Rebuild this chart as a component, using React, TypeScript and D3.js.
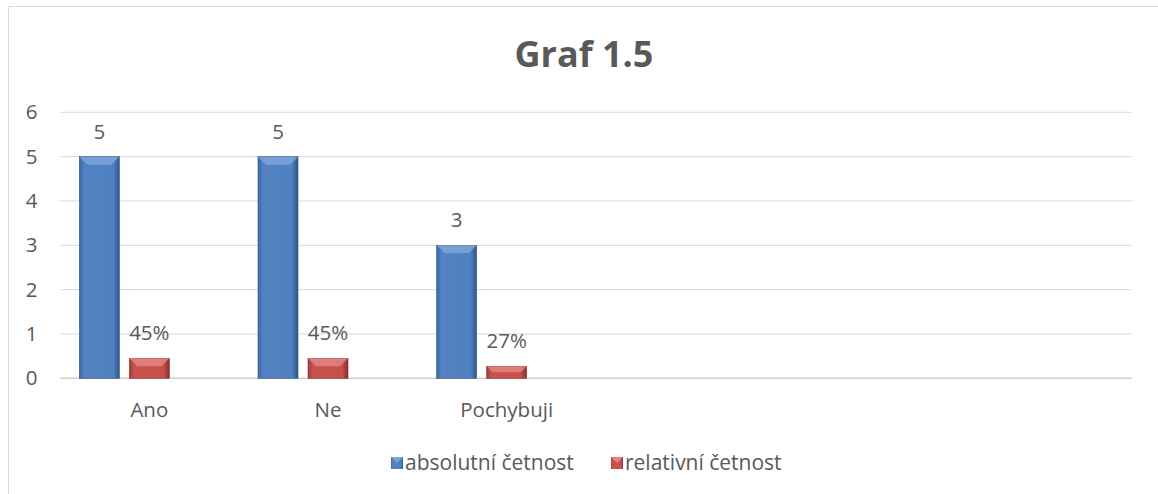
import React from 'react';
import * as d3 from 'd3';

// chart data
const categories = ['Ano', 'Ne', 'Pochybuji', '', '', ''];
const absolutni = [5, 5, 3];
const relativni = [0.45, 0.45, 0.27];
const relLabels = ['45%', '45%', '27%'];
const seriesNames = ['absolutní četnost', 'relativní četnost'];
const yTicks = [0, 1, 2, 3, 4, 5, 6];

const W = 1158;
const H = 494;
const FONT = '"Open Sans", Lato, sans-serif';
const TEXT = '#595959';
const FS = 20.5;

const App: React.FC = () => {
  const left = 60;
  const right = 1132;
  const top = 112.3;
  const bottom = 378.3;

  const x = d3
    .scaleBand<number>()
    .domain(categories.map((_, i) => i))
    .range([left, right]);

  // three slots per category, third one is empty (as in the original sheet)
  const inner = d3
    .scaleBand<string>()
    .domain(['abs', 'rel', 'empty'])
    .range([0, 150])
    .paddingInner(0.2)
    .paddingOuter(0.1);

  const y = d3.scaleLinear().domain([0, 6]).range([bottom, top]);
  const bw = inner.bandwidth();

  const groupX = (i: number) => (x(i) ?? 0) + (x.bandwidth() - 150) / 2;

  const bar = (key: string, cx: number, v: number, fillId: string, topCol: string, edge: string) => {
    const y0 = y(v);
    const h = bottom - y0;
    const bev = Math.min(8, h / 2);
    return (
      <g key={key}>
        <rect x={cx} y={y0} width={bw} height={h} fill={`url(#${fillId})`} stroke={edge} strokeWidth={0.6} />
        <polygon
          points={`${cx},${y0} ${cx + bw},${y0} ${cx + bw - bev},${y0 + bev} ${cx + bev},${y0 + bev}`}
          fill={topCol}
          opacity={0.85}
        />
      </g>
    );
  };

  return (
    <svg
      width={W}
      height={H}
      style={{ position: 'absolute', left: 0, top: 0, background: '#fff' }}
      fontFamily={FONT}
    >
      <defs>
        <linearGradient id="gBlue" x1="0" x2="1" y1="0" y2="0">
          <stop offset="0" stopColor="#3b68a3" />
          <stop offset="0.12" stopColor="#5282c2" />
          <stop offset="0.85" stopColor="#4f80c0" />
          <stop offset="1" stopColor="#2f5687" />
        </linearGradient>
        <linearGradient id="gRed" x1="0" x2="1" y1="0" y2="0">
          <stop offset="0" stopColor="#a33d3a" />
          <stop offset="0.12" stopColor="#c9514e" />
          <stop offset="0.85" stopColor="#c64f4c" />
          <stop offset="1" stopColor="#8a2f2c" />
        </linearGradient>
      </defs>

      {/* chart area border */}
      <rect x={8.5} y={6.5} width={1300} height={700} fill="#fff" stroke="#d9d9d9" strokeWidth={1} />

      <text x={584} y={66.5} textAnchor="middle" fontSize={36} fontWeight="bold" fill={TEXT}>
        Graf 1.5
      </text>

      {/* gridlines */}
      {yTicks.map((t) => (
        <g key={t}>
          <line
            x1={left}
            x2={right}
            y1={y(t)}
            y2={y(t)}
            stroke={t === 0 ? '#d0d0d0' : '#d9d9d9'}
            strokeWidth={t === 0 ? 1.5 : 1}
          />
          <text x={37.5} y={y(t) + 7} textAnchor="end" fontSize={FS} fill={TEXT}>
            {t}
          </text>
        </g>
      ))}

      {/* bars */}
      {absolutni.map((v, i) => {
        const bx = groupX(i) + (inner('abs') ?? 0);
        return (
          <g key={`a${i}`}>
            {bar(`ab${i}`, bx, v, 'gBlue', '#7fa5d8', '#2f5687')}
            <text x={bx + bw / 2} y={y(v) - 18} textAnchor="middle" fontSize={FS} fill={TEXT}>
              {v}
            </text>
          </g>
        );
      })}
      {relativni.map((v, i) => {
        const bx = groupX(i) + (inner('rel') ?? 0);
        return (
          <g key={`r${i}`}>
            {bar(`rb${i}`, bx, v, 'gRed', '#e08583', '#8a2f2c')}
            <text x={bx + bw / 2} y={y(v) - 18} textAnchor="middle" fontSize={FS} fill={TEXT}>
              {relLabels[i]}
            </text>
          </g>
        );
      })}

      {/* category labels */}
      {categories.map((c, i) => (
        <text
          key={`c${i}`}
          x={(x(i) ?? 0) + x.bandwidth() / 2}
          y={416.5}
          textAnchor="middle"
          fontSize={FS}
          fill={TEXT}
        >
          {c}
        </text>
      ))}

      {/* legend */}
      <g>
        <rect x={391} y={457} width={12} height={12} fill="url(#gBlue)" />
        <polygon points="391,457 403,457 397,463" fill="#7fa5d8" />
        <text x={405} y={469.5} fontSize={21} fill={TEXT}>
          {seriesNames[0]}
        </text>
        <rect x={611} y={457} width={12} height={12} fill="url(#gRed)" />
        <polygon points="611,457 623,457 617,463" fill="#e08583" />
        <text x={625} y={469.5} fontSize={21} fill={TEXT}>
          {seriesNames[1]}
        </text>
      </g>
    </svg>
  );
};

export default App;
